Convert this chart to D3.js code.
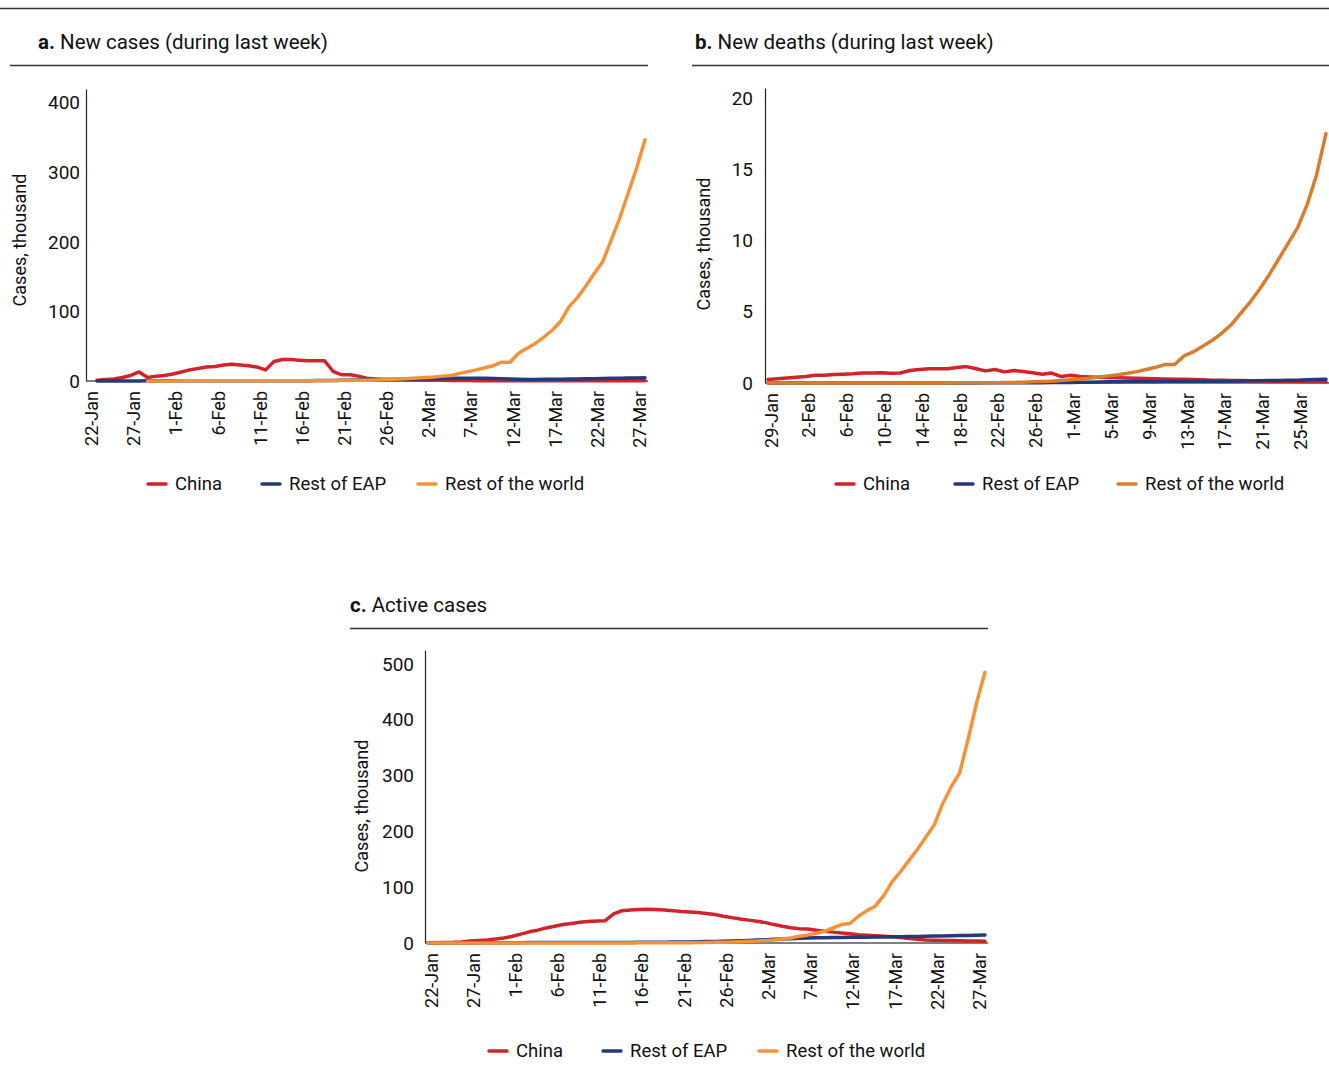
<!DOCTYPE html>
<html><head><meta charset="utf-8">
<script src="https://cdn.jsdelivr.net/npm/d3@7"></script>
<style>
body{margin:0;background:#fff}
svg{display:block}
text{font-family:Roboto,"Open Sans",sans-serif;fill:#111}
</style>
</head><body><svg id="chart" width="1329" height="1071"></svg>
<script>
// ---------- DATA ----------
const seriesNames = ["China", "Rest of EAP", "Rest of the world"];

// Panel a: New cases during last week (thousand), daily 23-Jan .. 28-Mar
const startA = "23-Jan", endA = "28-Mar";
const ticksA = ["22-Jan","27-Jan","1-Feb","6-Feb","11-Feb","16-Feb","21-Feb","26-Feb","2-Mar","7-Mar","12-Mar","17-Mar","22-Mar","27-Mar"];
const yTicksA = [0, 100, 200, 300, 400];
const chinaA = [1,2,3,5,8,13,5,7,8,10, 13,16,18,20,21,23,24,23,22,20, 16,28,31,31,30,29,29,29,14,9, 9,7,4,3,2,2,1.8,1.5,1.3,1.2, 1,0.9,0.8,0.7,0.6,0.5,0.5,0.4,0.4,0.3, 0.3,0.3,0.3,0.3,0.3,0.3,0.3,0.3,0.4,0.4, 0.4,0.4,0.4,0.4,0.4,0.4];
const eapA = [0,0,0,0.1,0.1,0.1,0.2,0.2,0.2,0.3, 0.3,0.3,0.3,0.3,0.3,0.3,0.3,0.4,0.4,0.4, 0.4,0.4,0.4,0.4,0.5,0.5,0.6,0.7,0.8,1.0, 1.2,1.4,1.6,1.8,2.0,2.2,2.5,2.8,3.0,3.2, 3.4,3.6,3.8,4.0,4.0,4.0,3.8,3.5,3.2,2.8, 2.5,2.3,2.3,2.4,2.5,2.6,2.8,3.0,3.2,3.4, 3.6,3.8,4.0,4.2,4.4,4.6];
const rowA = [null,null,null,null,null,null,0.1,0.1,0.1,0.1, 0.2,0.2,0.2,0.2,0.2,0.2,0.2,0.2,0.2,0.2, 0.2,0.2,0.3,0.3,0.3,0.3,0.4,0.5,0.6,0.7, 0.8,1.0,1.2,1.5,1.9,2.4,3.0,3.6,4.3,5.0, 5.8,7.0,8,11,13.5,16,19,22,27,27, 40,47,54,63,73,86,107,120,137,155, 172,203,234,270,306,347];

// Panel b: New deaths during last week (thousand), daily 29-Jan .. 28-Mar
const startB = "29-Jan", endB = "28-Mar";
const ticksB = ["29-Jan","2-Feb","6-Feb","10-Feb","14-Feb","18-Feb","22-Feb","26-Feb","1-Mar","5-Mar","9-Mar","13-Mar","17-Mar","21-Mar","25-Mar"];
const yTicksB = [0, 5, 10, 15, 20];
const chinaB = [0.25,0.3,0.35,0.4,0.45,0.55,0.55,0.6,0.62,0.65, 0.7,0.7,0.72,0.68,0.7,0.88,0.95,1.0,1.0,1.0, 1.08,1.15,1.0,0.85,0.95,0.78,0.88,0.8,0.72,0.62, 0.7,0.45,0.55,0.45,0.42,0.4,0.38,0.36,0.35,0.34, 0.32,0.3,0.28,0.27,0.26,0.24,0.22,0.2,0.19,0.18, 0.17,0.16,0.15,0.14,0.13,0.12,0.11,0.1,0.1,0.09];
const eapB = [0,0,0,0,0,0,0,0,0,0, 0,0,0,0,0,0,0,0,0,0, 0,0,0,0.01,0.01,0.01,0.01,0.02,0.02,0.02, 0.03,0.03,0.04,0.05,0.06,0.07,0.08,0.09,0.1,0.1, 0.11,0.11,0.12,0.12,0.12,0.12,0.12,0.12,0.12,0.13, 0.14,0.15,0.16,0.17,0.18,0.19,0.2,0.22,0.24,0.26];
const rowB = [0,0,0,0,0,0,0,0,0,0, 0,0,0,0,0,0,0,0,0,0, 0.01,0.01,0.01,0.02,0.02,0.03,0.04,0.06,0.08,0.1, 0.13,0.17,0.22,0.28,0.34,0.42,0.5,0.58,0.68,0.8, 0.95,1.1,1.3,1.3,1.9,2.2,2.6,3.0,3.5,4.1, 4.9,5.7,6.6,7.6,8.7,9.8,10.9,12.5,14.6,17.5];

// Panel c: Active cases (thousand), daily 22-Jan .. 28-Mar
const startC = "22-Jan", endC = "28-Mar";
const ticksC = ["22-Jan","27-Jan","1-Feb","6-Feb","11-Feb","16-Feb","21-Feb","26-Feb","2-Mar","7-Mar","12-Mar","17-Mar","22-Mar","27-Mar"];
const yTicksC = [0, 100, 200, 300, 400, 500];
const chinaC = [0.5,0.6,0.8,1.2,2,3.5,4.5,5.5,7,9, 12,16,20,23,27,30,33,35,37,38.5, 39.5,40,52,58,59,60,60.5,60,59,58, 56.5,55.5,54.5,53,51,48,45.5,43,41,39, 36.5,33,30,27.5,25.5,25,23,21,19.5,18, 16.5,15,14,13,12,11,10,8,6.5,5.5, 5,4.5,4.3,4,3.8,3.5,3.2];
const eapC = [0,0,0,0.1,0.1,0.2,0.3,0.3,0.4,0.5, 0.5,0.6,0.7,0.8,0.8,0.9,0.9,1.0,1.0,1.0, 1.0,1.0,1.1,1.1,1.1,1.2,1.3,1.4,1.5,1.6, 1.8,2.0,2.2,2.5,2.8,3.2,3.6,4.0,4.6,5.2, 5.8,6.5,7.2,7.8,8.4,8.8,9.2,9.5,9.8,10.0, 10.2,10.4,10.5,10.6,10.8,11.0,11.2,11.5,11.8,12.1, 12.4,12.7,13.0,13.3,13.6,13.9,14.2];
const rowC = [0,0,0,0,0,0,0.05,0.05,0.05,0.05, 0.1,0.1,0.1,0.1,0.1,0.1,0.1,0.1,0.1,0.1, 0.1,0.2,0.2,0.2,0.2,0.3,0.3,0.3,0.4,0.4, 0.5,0.6,0.8,1.0,1.2,1.5,1.9,2.4,3.0,3.5, 4.5,5.5,7,9,12,14.5,17.5,21,27,33, 35,48,58,66,85,110,128,148,168,190, 212,250,280,305,365,430,485];

// ---------- STYLE ----------
const RED = "#d1232a", NAVY = "#223a7a", ORANGE = "#f4923a", DKORANGE = "#d67d2e";
const FONT = "Roboto,'Open Sans',sans-serif";

const parse = d3.timeParse("%d-%b-%Y");
const P = s => parse(s + "-2020");

const svg = d3.select("#chart");
svg.append("rect").attr("width", 1329).attr("height", 1071).attr("fill", "#fff");

// top rule
svg.append("line").attr("x1", 0).attr("x2", 1329).attr("y1", 8.5).attr("y2", 8.5)
  .attr("stroke", "#333").attr("stroke-width", 1.3);

const panels = [
  { letter: "a.", title: "New cases (during last week)", titleX: 38, titleY: 49,
    rule: [10, 648, 65.5], axisX: 86, xEnd: 648, topY: 89, zeroY: 381, xRange: [97, 645],
    start: startA, end: endA, ticks: ticksA, yTicks: yTicksA, yMax: 420, tickGap: 6,
    series: [chinaA, eapA, rowA], colors: [RED, NAVY, ORANGE],
    yTitle: [20, 240], legendY: 484, legendX: [148, 262, 418] },
  { letter: "b.", title: "New deaths (during last week)", titleX: 695, titleY: 49,
    rule: [692, 1329, 65.5], axisX: 765, xEnd: 1329, topY: 88, zeroY: 383, xRange: [768, 1326],
    start: startB, end: endB, ticks: ticksB, yTicks: yTicksB, yMax: 20.7, tickGap: 12,
    series: [chinaB, eapB, rowB], colors: [RED, NAVY, DKORANGE],
    yTitle: [704, 244], legendY: 484, legendX: [836, 955, 1118] },
  { letter: "c.", title: "Active cases", titleX: 350, titleY: 612,
    rule: [350, 988, 628.5], axisX: 425, xEnd: 988, topY: 650, zeroY: 943, xRange: [428, 985],
    start: startC, end: endC, ticks: ticksC, yTicks: yTicksC, yMax: 525, tickGap: 11,
    series: [chinaC, eapC, rowC], colors: [RED, NAVY, ORANGE],
    yTitle: [362, 806], legendY: 1051, legendX: [489, 603, 759] }
];

panels.forEach(cfg => {
  const g = svg.append("g");
  const t = g.append("text").attr("x", cfg.titleX).attr("y", cfg.titleY).style("font-size", "20.5px");
  t.append("tspan").attr("font-weight", "bold").text(cfg.letter);
  t.append("tspan").text(" " + cfg.title);
  g.append("line").attr("x1", cfg.rule[0]).attr("x2", cfg.rule[1])
    .attr("y1", cfg.rule[2]).attr("y2", cfg.rule[2]).attr("stroke", "#333").attr("stroke-width", 1.3);

  const start = P(cfg.start);
  const x = d3.scaleTime().domain([start, P(cfg.end)]).range(cfg.xRange);
  const y = d3.scaleLinear().domain([0, cfg.yMax]).range([cfg.zeroY, cfg.topY]);

  // y axis
  const ya = g.append("g").attr("transform", `translate(${cfg.axisX},0)`)
    .call(d3.axisLeft(y).tickValues(cfg.yTicks).tickSize(0).tickPadding(cfg.tickGap));
  ya.select(".domain").attr("stroke", "#222").attr("stroke-width", 1.2);
  ya.selectAll("text").style("font-size", "19px").style("font-family", FONT).attr("fill", "#111");

  // x axis
  const xa = g.append("g").attr("transform", `translate(0,${cfg.zeroY})`)
    .call(d3.axisBottom(x).tickValues(cfg.ticks.map(P)).tickFormat((d, i) => cfg.ticks[i]).tickSize(0));
  xa.select(".domain").remove();
  xa.selectAll("text")
    .attr("transform", "rotate(-90)")
    .attr("text-anchor", "end")
    .attr("x", -10).attr("y", 0).attr("dy", "0.5em")
    .style("font-size", "18px").style("font-family", FONT).attr("fill", "#111");
  g.append("line").attr("x1", cfg.axisX).attr("x2", cfg.xEnd)
    .attr("y1", cfg.zeroY).attr("y2", cfg.zeroY).attr("stroke", "#555").attr("stroke-width", 1.5);

  // y title
  g.append("text").attr("transform", `translate(${cfg.yTitle[0]},${cfg.yTitle[1]}) rotate(-90)`)
    .attr("text-anchor", "middle").attr("dy", "0.35em").style("font-size", "18px").text("Cases, thousand");

  // lines
  cfg.series.forEach((vals, si) => {
    const line = d3.line()
      .defined(v => v != null)
      .x((v, i) => x(d3.timeDay.offset(start, i)))
      .y(v => y(v));
    g.append("path").datum(vals).attr("d", line)
      .attr("fill", "none").attr("stroke", cfg.colors[si]).attr("stroke-width", 3.5)
      .attr("stroke-linejoin", "round").attr("stroke-linecap", "round");
  });

  // legend
  seriesNames.forEach((name, si) => {
    const lx = cfg.legendX[si];
    g.append("line").attr("x1", lx).attr("x2", lx + 18).attr("y1", cfg.legendY).attr("y2", cfg.legendY)
      .attr("stroke", cfg.colors[si]).attr("stroke-width", 3.5).attr("stroke-linecap", "round");
    g.append("text").attr("x", lx + 27).attr("y", cfg.legendY).attr("dy", "0.35em")
      .style("font-size", "18.5px").text(name);
  });
});
</script></body></html>
